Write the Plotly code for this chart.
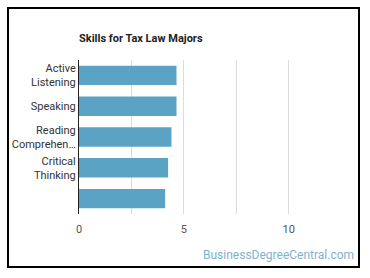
import plotly.graph_objects as go

categories = ["Active<br>Listening", "Speaking", "Reading<br>Comprehen…", "Critical<br>Thinking", " "]
values = [4.65, 4.65, 4.41, 4.25, 4.11]
tick_vals = [0, 2.5, 5, 7.5, 10]
tick_text = ["0", "", "5", "", "10"]

W, H = 370, 278
L, R, T, B = 79, 339, 60, 214
pw, ph = R - L, B - T

fig = go.Figure(go.Bar(
    x=values, y=categories, orientation="h",
    marker=dict(color="#5ba3c4", line=dict(width=0)),
    width=0.63, hoverinfo="skip",
))

def px(x):
    return (x - L) / pw

def py(y):
    return (B - y) / ph

fig.update_layout(
    width=W, height=H,
    margin=dict(l=L, r=W - R, t=T, b=H - B, pad=0, autoexpand=False),
    paper_bgcolor="white", plot_bgcolor="white",
    font=dict(family="Roboto", size=11, color="#333"),
    showlegend=False,
    title=dict(text="<b>Skills for Tax Law Majors</b>", x=0, xref="paper", xanchor="left",
               y=1 - 38 / H, yref="container", yanchor="middle",
               font=dict(family="Roboto", size=11, color="#222")),
    xaxis=dict(range=[0, 12.4], tickvals=tick_vals, ticktext=tick_text,
               showgrid=True, gridcolor="#dcdcdc", gridwidth=1, zeroline=False,
               showline=False, ticks="", tickfont=dict(size=11, color="#555"),
               ticklabelstandoff=7, automargin=False, fixedrange=True),
    yaxis=dict(autorange="reversed", showgrid=False, zeroline=False,
               showline=True, linecolor="#222", linewidth=1, ticks="",
               ticklabelstandoff=0, automargin=False,
               tickfont=dict(size=11, color="#333"), fixedrange=True),
    bargap=0.37,
    shapes=[dict(type="rect", xref="paper", yref="paper",
                 x0=px(8), x1=px(359), y0=py(267), y1=py(8),
                 line=dict(color="#000", width=2), fillcolor="rgba(0,0,0,0)", layer="above")],
    annotations=[dict(text="BusinessDegreeCentral.com", xref="paper", yref="paper",
                      x=px(356), y=py(255), xanchor="right", yanchor="middle",
                      showarrow=False, font=dict(family="Roboto", size=12, color="#7eb3d0"))],
)

fig.write_html("out.html", config={"displayModeBar": False})
